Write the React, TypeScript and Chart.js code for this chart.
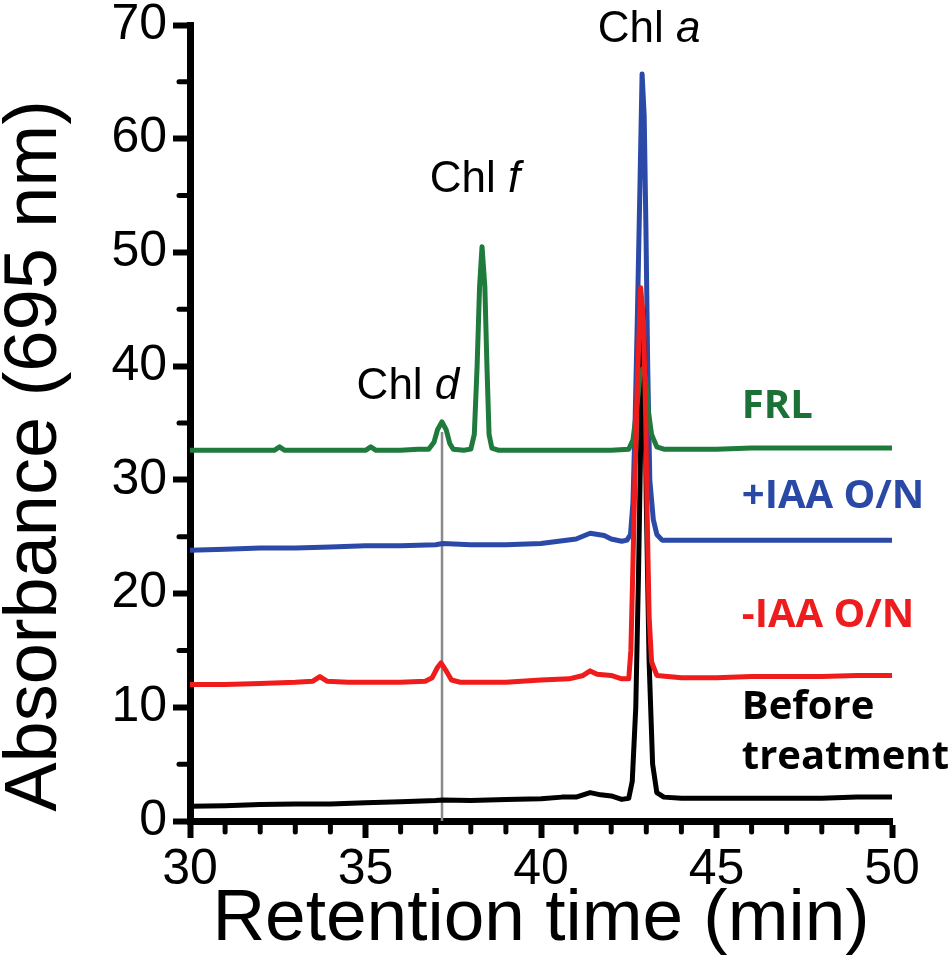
import { useEffect, useRef } from 'react';
import { Chart, registerables } from 'chart.js';

Chart.register(...registerables);

// FRL trace (green)
const frlTime = [30, 31, 32, 32.4, 32.55, 32.7, 33, 34, 35, 35.15, 35.3, 36, 36.5, 36.8, 36.95, 37.05, 37.18, 37.3, 37.4, 37.5, 37.8, 38.0, 38.1, 38.18, 38.25, 38.32, 38.4, 38.46, 38.52, 38.6, 38.8, 39, 40, 41, 42, 42.5, 42.62, 42.72, 42.82, 42.9, 42.98, 43.06, 43.15, 43.3, 43.5, 44, 45, 46, 47, 48, 49, 50];
const frlAbs = [32.6, 32.6, 32.6, 32.6, 32.9, 32.6, 32.6, 32.6, 32.6, 32.9, 32.6, 32.6, 32.7, 32.7, 33.3, 34.4, 35.1, 34.4, 33.2, 32.7, 32.6, 32.7, 34, 40, 47, 50.5, 47, 40, 34, 32.8, 32.6, 32.6, 32.6, 32.6, 32.6, 32.7, 33.5, 36, 39.2, 39.8, 39, 36, 34, 32.9, 32.7, 32.7, 32.7, 32.8, 32.8, 32.8, 32.8, 32.8];

// +IAA O/N trace (blue)
const plusTime = [30, 31, 32, 33, 34, 35, 36, 37, 37.2, 38, 39, 40, 40.5, 41, 41.4, 41.8, 42, 42.3, 42.45, 42.55, 42.62, 42.68, 42.75, 42.82, 42.88, 42.94, 42.99, 43.04, 43.1, 43.2, 43.3, 43.45, 44, 45, 46, 47, 48, 49, 50];
const plusAbs = [23.8, 23.9, 24.0, 24.0, 24.1, 24.2, 24.2, 24.3, 24.4, 24.3, 24.3, 24.4, 24.6, 24.8, 25.3, 25.1, 24.8, 24.6, 24.7, 25.2, 28, 35, 45, 56, 65.7, 62, 52, 40, 30, 26.5, 25.2, 24.7, 24.7, 24.7, 24.7, 24.7, 24.7, 24.7, 24.7];

// -IAA O/N trace (red)
const minusTime = [30, 31, 32, 33, 33.5, 33.7, 33.9, 34.5, 35, 36, 36.7, 36.9, 37.05, 37.15, 37.3, 37.45, 37.7, 38, 39, 40, 40.8, 41.2, 41.4, 41.6, 42, 42.3, 42.5, 42.56, 42.6, 42.66, 42.74, 42.84, 42.92, 42.98, 43.03, 43.08, 43.15, 43.3, 44, 45, 46, 47, 48, 49, 50];
const minusAbs = [12.0, 12.0, 12.1, 12.2, 12.3, 12.7, 12.3, 12.2, 12.2, 12.2, 12.3, 12.6, 13.5, 13.9, 13.2, 12.4, 12.2, 12.2, 12.2, 12.4, 12.5, 12.8, 13.2, 12.9, 12.8, 12.5, 12.5, 15, 20, 28, 38, 46.9, 44, 36, 26, 18, 14, 12.8, 12.6, 12.6, 12.7, 12.7, 12.7, 12.8, 12.8];

// Before treatment trace (black)
const beforeTime = [30, 31, 32, 33, 34, 35, 36, 37, 37.2, 38, 39, 40, 40.6, 41, 41.4, 41.7, 42, 42.3, 42.5, 42.6, 42.7, 42.78, 42.85, 42.9, 42.95, 43.0, 43.08, 43.18, 43.3, 43.5, 44, 45, 46, 47, 48, 49, 50];
const beforeAbs = [1.3, 1.35, 1.45, 1.5, 1.5, 1.6, 1.7, 1.8, 1.85, 1.8, 1.9, 1.95, 2.1, 2.1, 2.5, 2.3, 2.2, 1.9, 2.0, 3.5, 10, 22, 35, 45, 40, 28, 14, 5, 2.5, 2.1, 2.0, 2.0, 2.0, 2.0, 2.0, 2.1, 2.1];

// grey guide line under the Chl d peak
const guideTime = [37.18, 37.18];
const guideAbs = [0, 34.2];

const xMinorTicks = [31, 32, 33, 34, 36, 37, 38, 39, 41, 42, 43, 44, 46, 47, 48, 49];
const yMinorTicks = [5, 15, 25, 35, 45, 55, 65];

const toPoints = (xs: number[], ys: number[]) => xs.map((x, i) => ({ x, y: ys[i] }));

const FONT = '"Liberation Sans", Arial, sans-serif';
const BOLD = '"Open Sans", sans-serif';

const overlay = {
  id: 'overlay',
  afterDraw(chart: any) {
    const { ctx, chartArea } = chart;
    const x = chart.scales.x;
    const y = chart.scales.y;
    ctx.save();

    // minor ticks
    ctx.strokeStyle = '#000';
    ctx.lineWidth = 5;
    ctx.lineCap = 'round';
    xMinorTicks.forEach((v) => {
      const px = x.getPixelForValue(v);
      ctx.beginPath();
      ctx.moveTo(px, chartArea.bottom);
      ctx.lineTo(px, chartArea.bottom + 11);
      ctx.stroke();
    });
    yMinorTicks.forEach((v) => {
      const py = y.getPixelForValue(v);
      ctx.beginPath();
      ctx.moveTo(chartArea.left, py);
      ctx.lineTo(chartArea.left - 11, py);
      ctx.stroke();
    });

    // y axis title
    ctx.save();
    ctx.translate(36, 456);
    ctx.rotate(-Math.PI / 2);
    ctx.font = `74px ${FONT}`;
    ctx.fillStyle = '#000';
    ctx.textAlign = 'center';
    ctx.textBaseline = 'middle';
    ctx.fillText('Absorbance (695 nm)', 0, 0);
    ctx.restore();

    // peak labels
    const chl = (letter: string, vx: number, vy: number) => {
      const cx = x.getPixelForValue(vx);
      const cy = y.getPixelForValue(vy);
      ctx.font = `44px ${FONT}`;
      const a = ctx.measureText('Chl ').width;
      ctx.font = `italic 44px ${FONT}`;
      const b = ctx.measureText(letter).width;
      const start = cx - (a + b) / 2;
      ctx.fillStyle = '#000';
      ctx.textAlign = 'left';
      ctx.textBaseline = 'middle';
      ctx.font = `44px ${FONT}`;
      ctx.fillText('Chl ', start, cy);
      ctx.font = `italic 44px ${FONT}`;
      ctx.fillText(letter, start + a, cy);
    };
    chl('a', 43.08, 69.6);
    chl('f', 38.12, 56.4);
    chl('d', 36.21, 38.2);

    // series labels
    const tag = (text: string, color: string, vy: number) => {
      ctx.font = `bold 40px ${BOLD}`;
      ctx.fillStyle = color;
      ctx.textAlign = 'left';
      ctx.textBaseline = 'middle';
      ctx.fillText(text, x.getPixelForValue(45.72), y.getPixelForValue(vy));
    };
    tag('FRL', '#1c7236', 36.4);
    tag('+IAA O/N', '#2a48a6', 28.5);
    tag('-IAA O/N', '#ee1c1c', 18.1);
    tag('Before', '#000', 10.0);
    tag('treatment', '#000', 5.6);

    ctx.restore();
  },
};

const ChromatogramChart = () => {
  const chartRef = useRef<HTMLCanvasElement>(null);
  const chartInstance = useRef<Chart | null>(null);

  useEffect(() => {
    if (!chartRef.current) return;
    if (chartInstance.current) chartInstance.current.destroy();
    const ctx = chartRef.current.getContext('2d');
    if (!ctx) return;

    const line = (label: string, data: any[], color: string, order: number, width = 5) => ({
      label,
      data,
      borderColor: color,
      backgroundColor: color,
      borderWidth: width,
      pointRadius: 0,
      tension: 0,
      fill: false,
      order,
      borderJoinStyle: 'round' as const,
    });

    chartInstance.current = new Chart(ctx, {
      type: 'line',
      data: {
        datasets: [
          line('-IAA O/N', toPoints(minusTime, minusAbs), '#f01c1c', 0),
          line('FRL', toPoints(frlTime, frlAbs), '#1e7b3c', 1),
          line('Before treatment', toPoints(beforeTime, beforeAbs), '#000000', 2),
          line('+IAA O/N', toPoints(plusTime, plusAbs), '#2b4aa8', 3),
          line('guide', toPoints(guideTime, guideAbs), '#8a8a8a', 4, 2.5),
        ],
      },
      options: {
        animation: false,
        responsive: true,
        maintainAspectRatio: false,
        layout: { padding: { top: 25, right: 58, bottom: 0, left: 0 } },
        plugins: {
          legend: { display: false },
          tooltip: { enabled: false },
        },
        scales: {
          x: {
            type: 'linear',
            min: 30,
            max: 50,
            ticks: {
              stepSize: 5,
              color: '#000',
              padding: 2,
              maxRotation: 0,
              font: { family: FONT, size: 50 },
            },
            grid: { drawOnChartArea: false, drawTicks: true, tickLength: 17, tickWidth: 6, tickColor: '#000' },
            border: { display: true, color: '#000', width: 7 },
            title: {
              display: true,
              text: 'Retention time (min)',
              color: '#000',
              padding: 0,
              font: { family: FONT, size: 73, lineHeight: 1.1 },
            },
            afterFit: (s: any) => {
              s.height = 139;
              s.paddingLeft = 0;
              s.paddingRight = 0;
            },
          },
          y: {
            type: 'linear',
            min: 0,
            max: 70,
            ticks: {
              stepSize: 10,
              color: '#000',
              padding: 6,
              font: { family: FONT, size: 50 },
            },
            grid: { drawOnChartArea: false, drawTicks: true, tickLength: 17, tickWidth: 6, tickColor: '#000' },
            border: { display: true, color: '#000', width: 7 },
            afterFit: (s: any) => {
              s.width = 190;
              s.paddingTop = 0;
              s.paddingBottom = 0;
            },
          },
        },
      },
      plugins: [overlay],
    });

    return () => {
      if (chartInstance.current) {
        chartInstance.current.destroy();
        chartInstance.current = null;
      }
    };
  }, []);

  return <canvas ref={chartRef} />;
};

export default function App() {
  return (
    <div style={{ position: 'fixed', left: 0, top: 0, width: 950, height: 960, background: '#fff' }}>
      <ChromatogramChart />
    </div>
  );
}
